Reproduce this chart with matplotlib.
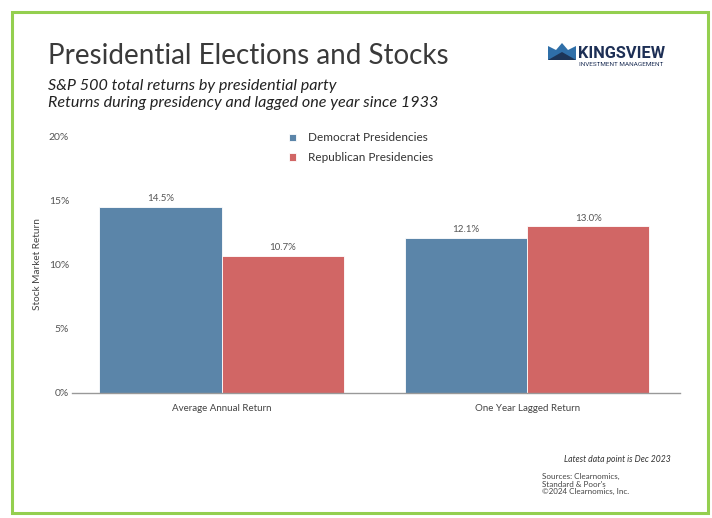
import numpy as np
import matplotlib.pyplot as plt
from matplotlib.patches import Rectangle, Polygon

# data
categories = ['Average Annual Return', 'One Year Lagged Return']
democrat = [14.5, 12.1]
republican = [10.7, 13.0]
series_names = ['Democrat Presidencies', 'Republican Presidencies']
yticks = [0, 5, 10, 15, 20]

blue = '#5b85a9'
red = '#d16665'
grey = '#555555'

plt.rcParams['font.family'] = ['Lato', 'DejaVu Sans']

fig = plt.figure(figsize=(7.12, 5.18), dpi=100)

def fx(px):
    return px / 712
def fy(py):
    return 1 - py / 518

# green frame
fig.patches.append(Rectangle((fx(12), fy(513)), 696/712, 501/518, transform=fig.transFigure,
                             fill=False, edgecolor='#94cf4f', linewidth=2.2))

ax = fig.add_axes([fx(72), fy(393), 608/712, 257/518])
x = np.arange(len(categories))
w = 0.4
b1 = ax.bar(x - w/2, democrat, w, color=blue, edgecolor='white', linewidth=0.6, label=series_names[0])
b2 = ax.bar(x + w/2, republican, w, color=red, edgecolor='white', linewidth=0.6, label=series_names[1])

for bars, vals in [(b1, democrat), (b2, republican)]:
    for b, v in zip(bars, vals):
        ax.text(b.get_x() + b.get_width()/2, v + 0.25, f'{v:.1f}%', ha='center', va='bottom',
                fontsize=7, color=grey)

ax.set_xlim(-0.49, 1.5)
ax.set_ylim(0, 20)
ax.set_yticks(yticks)
ax.set_yticklabels([f'{t}%' for t in yticks], fontsize=7.5, color=grey)
ax.set_xticks(x)
ax.set_xticklabels(categories, fontsize=7, color='#444444')
ax.tick_params(axis='x', length=0, pad=8)
ax.tick_params(axis='y', length=0, pad=2)
for s in ['top', 'right', 'left']:
    ax.spines[s].set_visible(False)
ax.spines['bottom'].set_color('#999999')
ax.spines['bottom'].set_linewidth(1)
ax.set_ylabel('Stock Market Return', fontsize=7.2, color='#444444')
ax.yaxis.set_label_coords(-(72 - 42) / 608, 0.5)

ax.legend(loc='upper left', bbox_to_anchor=(0.34, 1.055), frameon=False, fontsize=8.5,
          handlelength=0.6, handleheight=0.6, handletextpad=1.0, labelspacing=0.75,
          labelcolor='#333333')

# titles
fig.text(fx(48), fy(56), 'Presidential Elections and Stocks', fontsize=20, color='#3a3a3a',
         va='center', ha='left')
fig.text(fx(48), fy(86), 'S&P 500 total returns by presidential party', fontsize=11.6,
         style='italic', color='#222222', va='center')
fig.text(fx(48), fy(103), 'Returns during presidency and lagged one year since 1933', fontsize=11.6,
         style='italic', color='#222222', va='center')

# logo
crown = [(548, 60), (548, 46), (556, 50), (562, 43), (568, 50), (576, 46), (576, 60)]
fig.patches.append(Polygon([(fx(a), fy(b)) for a, b in crown], closed=True,
                           transform=fig.transFigure, facecolor='#2f6fa8', edgecolor='none'))
fig.patches.append(Polygon([(fx(a), fy(b)) for a, b in [(548, 60), (562, 52), (576, 60)]], closed=True,
                           transform=fig.transFigure, facecolor='#1d3557', edgecolor='none'))
fig.text(fx(578), fy(54), 'KINGSVIEW', fontsize=11.8, fontweight='bold', color='#1d2f55',
         va='center', ha='left', family=['Roboto', 'DejaVu Sans'])
fig.text(fx(579), fy(65), 'INVESTMENT MANAGEMENT', fontsize=4.6, color='#1d2f55',
         va='center', ha='left', family=['Roboto', 'DejaVu Sans'])

# footnotes
fig.text(fx(671), fy(460), 'Latest data point is Dec 2023', fontsize=6.2, style='italic',
         color='#333333', ha='right', va='center')
fig.text(fx(542), fy(473), 'Sources: Clearnomics,\nStandard & Poor\'s\n\u00a92024 Clearnomics, Inc.',
         fontsize=5.8, color='#444444', ha='left', va='top', linespacing=1.1)

fig.savefig('out.png', dpi=100)
